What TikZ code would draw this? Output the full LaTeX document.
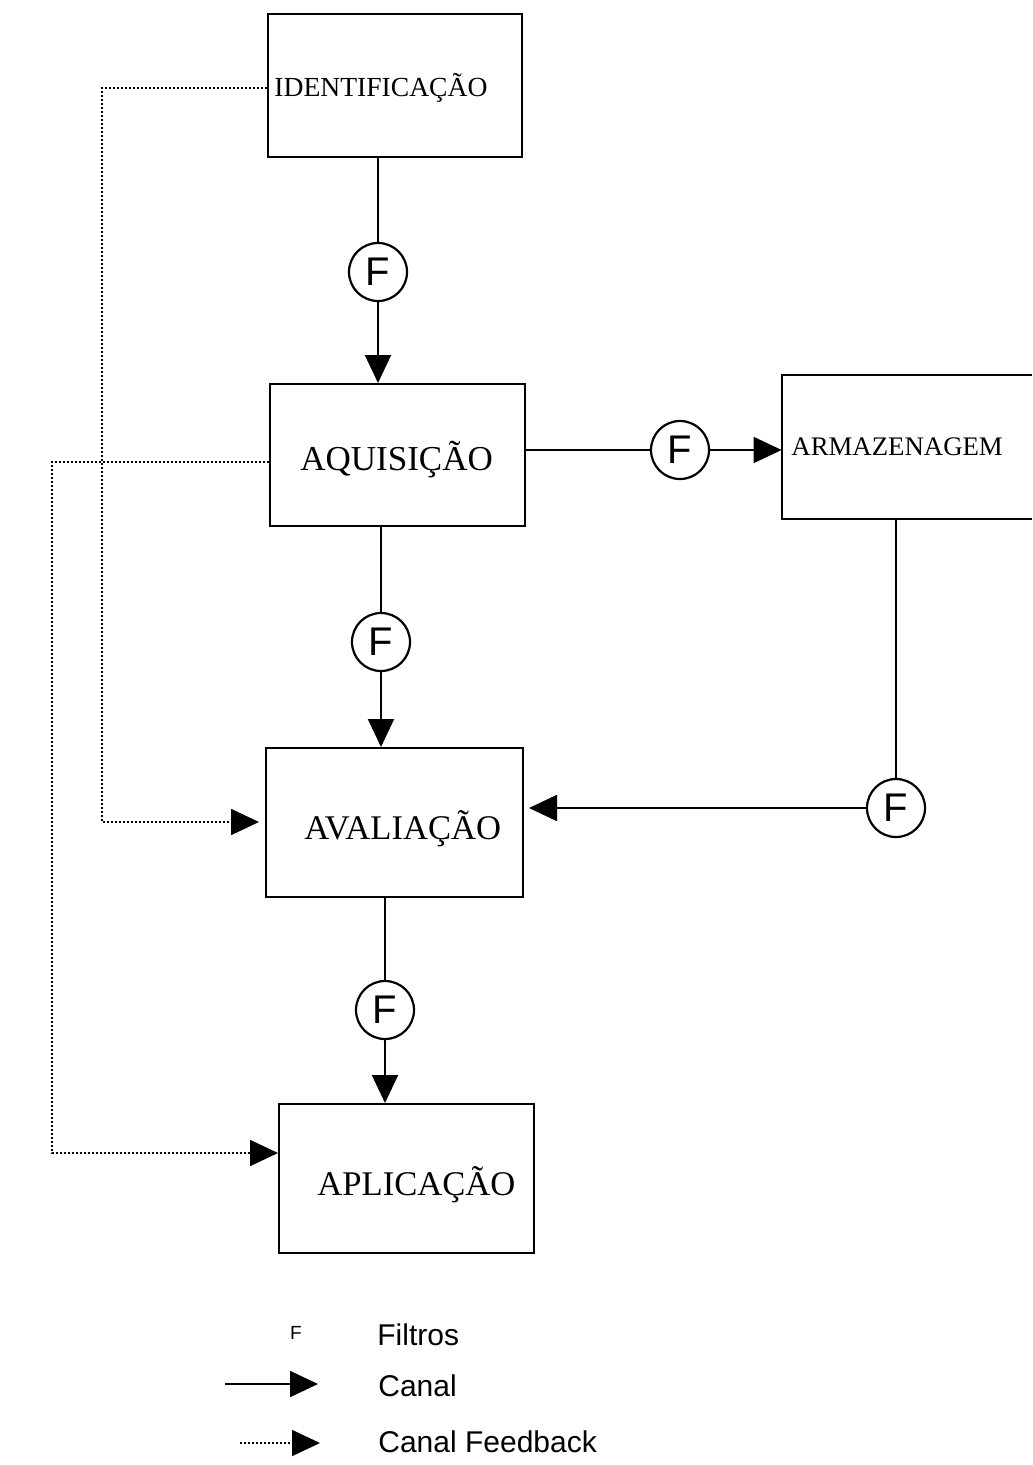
\documentclass[tikz,border=0pt]{standalone}
\usepackage{fontspec}
\setmainfont{Liberation Serif}
\newfontfamily\arialf{Liberation Sans}
\usetikzlibrary{arrows.meta}
\tikzset{
  boxst/.style={draw, line width=1pt, inner sep=0pt, minimum width=#1},
  filt/.style={draw, circle, line width=1.1pt, minimum size=29pt, inner sep=0pt, font=\arialf\fontsize{20}{20}\selectfont},
  lbl/.style={inner sep=0pt, anchor=west},
  canal/.style={line width=1pt, -{Triangle[length=14pt,width=13pt]}},
  feed/.style={line width=0.9pt, dash pattern=on 0.9pt off 1.1pt, -{Triangle[length=14pt,width=13pt]}},
  plain/.style={line width=1pt},
  legtxt/.style={inner sep=0pt, anchor=west, font=\arialf\fontsize{15}{15}\selectfont},
}
\begin{document}
\begin{tikzpicture}[x=0.5pt,y=-0.5pt]
\useasboundingbox (0,0) rectangle (1032,1465);
% boxes
\node[boxst=127pt, minimum height=71.5pt] (ident) at (395,85.5) {};
\node[boxst=127.5pt, minimum height=71pt] (aqui) at (397.5,455) {};
\node[draw=none, inner sep=0pt, minimum width=125pt, minimum height=72pt] (arm) at (907,447) {};
\draw[plain] (arm.north east) -- (arm.north west) -- (arm.south west) -- (arm.south east);
\node[boxst=128.5pt, minimum height=74.5pt] (aval) at (394.5,822.5) {};
\node[boxst=127.5pt, minimum height=74.5pt] (apli) at (406.5,1178.5) {};
% labels
\node[lbl, font=\fontsize{13.8}{14}\selectfont] (identl) at (274,88) {IDENTIFICAÇÃO};
\node[lbl, font=\fontsize{17.5}{18}\selectfont] (aquil) at (300,460) {AQUISIÇÃO};
\node[lbl, font=\fontsize{13.4}{14}\selectfont] (arml) at (791,447) {ARMAZENAGEM};
\node[lbl, font=\fontsize{17.3}{18}\selectfont] (avall) at (304,829) {AVALIAÇÃO};
\node[lbl, font=\fontsize{17.3}{18}\selectfont] (aplil) at (317,1185) {APLICAÇÃO};
% filters
\node[filt] (f1) at (378,272) {F};
\node[filt] (f2) at (680,450) {F};
\node[filt] (f3) at (381,642) {F};
\node[filt] (f4) at (896,808) {F};
\node[filt] (f5) at (385,1010) {F};
% channels
\draw[plain] (f1 |- ident.south) -- (f1);
\draw[canal] (f1) -- (f1 |- aqui.north);
\draw[plain] (aqui.east |- f2) -- (f2);
\draw[canal] (f2) -- (arm.west |- f2);
\draw[plain] (f3 |- aqui.south) -- (f3);
\draw[canal] (f3) -- (f3 |- aval.north);
\draw[plain] (f4 |- arm.south) -- (f4);
\draw[canal] (f4) -- ([xshift=2.5pt]aval.east |- f4);
\draw[plain] (f5 |- aval.south) -- (f5);
\draw[canal] (f5) -- (f5 |- apli.north);
% feedback
\coordinate (fb1a) at (102,88);
\coordinate (fb1b) at (102,822);
\draw[feed] (ident.west |- fb1a) -- (fb1a) -- (fb1b) -- ([xshift=-3pt]aval.west |- fb1b);
\coordinate (fb2a) at (52,462);
\coordinate (fb2b) at (52,1153);
\draw[feed] (aqui.west |- fb2a) -- (fb2a) -- (fb2b) -- (apli.west |- fb2b);
% legend
\node[inner sep=0pt, font=\arialf\fontsize{9.5}{9.5}\selectfont] (legf) at (296,1333) {F};
\node[legtxt] (legf2) at (377,1335) {Filtros};
\coordinate (lc1) at (225,1384);
\node[legtxt] (legc) at (378,1386) {Canal};
\draw[canal] (lc1) -- ([xshift=-30pt]legc.west |- lc1);
\coordinate (ld1) at (240,1443);
\node[legtxt] (legd) at (378,1442) {Canal Feedback};
\draw[feed] (ld1) -- ([xshift=-29pt]legd.west |- ld1);
\end{tikzpicture}
\end{document}
